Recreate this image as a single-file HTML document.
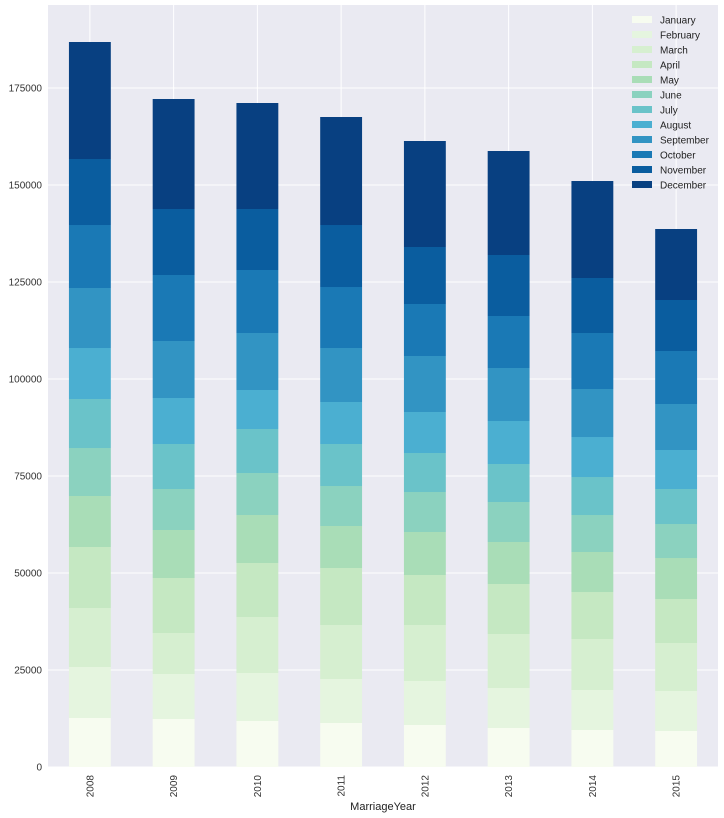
<!DOCTYPE html>
<html><head><meta charset="utf-8"><style>
body{margin:0;background:#fff;}
svg{font-family:"Liberation Sans","DejaVu Sans",sans-serif;display:block;}
</style></head><body>
<svg id="chart" width="724" height="818" viewBox="0 0 724 818"></svg>
<script>
const years = ["2008","2009","2010","2011","2012","2013","2014","2015"];
const months = ["January","February","March","April","May","June","July","August","September","October","November","December"];
const colors = ["#f7fcf0","#e5f5df","#d6efd0","#c5e8c2","#a9ddb7","#8bd2bf","#6ac3c9","#4bafd1","#3294c3","#1a79b5","#0a5d9f","#084081"];
const january   = [12629,12371,11856,11340,10825,10052,9536,9278];
const february  = [13144,11598,12371,11340,11340,10309,10309,10309];
const march     = [15206,10567,14433,13917,14433,13917,13144,12371];
const april     = [15722,14175,13917,14691,12887,12887,12113,11340];
const may       = [13144,12371,12371,10825,11082,10825,10309,10567];
const june      = [12371,10567,10825,10309,10309,10309,9536,8763];
const july      = [12629,11598,11340,10825,10052,9794,9794,9021];
const august    = [13144,11856,10052,10825,10567,11082,10309,10052];
const september = [15464,14691,14691,13917,14433,13660,12371,11856];
const october   = [16237,17010,16237,15722,13402,13402,14433,13660];
const november  = [17010,17010,15722,15979,14691,15722,14175,13144];
const december  = [30154,28350,27319,27835,27319,26804,25000,18299];
const series = [january,february,march,april,may,june,july,august,september,october,november,december];
const yTicks = [0,25000,50000,75000,100000,125000,150000,175000];

const NS="http://www.w3.org/2000/svg";
const svg=document.getElementById('chart');
const L=48,R=718,T=5,B=767;
const yScale=v=>B-v*(679/175000);
const band=(R-L)/years.length;
const xCenter=i=>L+band*(i+0.5);
function mk(tag,attrs,parent){const e=document.createElementNS(NS,tag);for(const k in attrs)e.setAttribute(k,attrs[k]);(parent||svg).appendChild(e);return e;}

const bg=mk('rect',{x:L,y:T,width:R-L,height:B-T,fill:'#eaeaf2'});



yTicks.forEach(t=>{
  const y=yScale(t);
  const g=mk('line',{x1:L,x2:R,y1:y,y2:y,stroke:'#fff','stroke-width':1});
  
  
  const tx=mk('text',{x:42,y:y+3.5,'text-anchor':'end','font-size':10,fill:'#333'});
  tx.textContent=t;
  
  
});
years.forEach((yr,i)=>{
  const x=xCenter(i);
  const g=mk('line',{x1:x,x2:x,y1:T,y2:B,stroke:'#fff','stroke-width':1});
  
  
  const tx=mk('text',{x:0,y:0,'text-anchor':'end','font-size':10,fill:'#333',transform:`translate(${x+3.5},${B+8}) rotate(-90)`});
  tx.textContent=yr;
  
  
});
years.forEach((yr,i)=>{
  let cum=0;
  series.forEach((s,m)=>{
    const v=s[i];
    const y1=yScale(cum+v), y0=yScale(cum);
    const r=mk('rect',{x:xCenter(i)-band*0.25,y:y1,width:band*0.5,height:y0-y1,fill:colors[m]});
    
    
    cum+=v;
  });
});
const xl=mk('text',{x:(L+R)/2,y:810,'text-anchor':'middle','font-size':11,fill:'#222'});
xl.textContent='MarriageYear';



months.forEach((m,k)=>{
  const y=20+k*15;
  const p=mk('rect',{x:632,y:y-4,width:20,height:7,fill:colors[k]});
  
  
  const t=mk('text',{x:660,y:y+3.5,'font-size':10,fill:'#222'});
  t.textContent=m;
  
  
});
</script>
</body></html>
